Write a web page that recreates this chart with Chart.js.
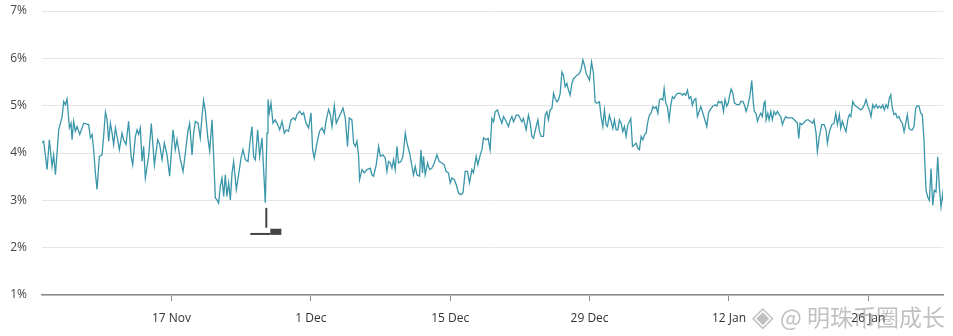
<!DOCTYPE html>
<html>
<head>
<meta charset="utf-8">
<script src="https://cdn.jsdelivr.net/npm/chart.js@4/dist/chart.umd.min.js"></script>
<style>
  html, body { margin: 0; padding: 0; background: #fff; }
  #wrap { position: relative; width: 953px; height: 336px; }
  #watermark {
    position: absolute; left: 752px; top: 294px;
    font-family: 'Noto Sans CJK SC', 'Noto Sans', sans-serif;
    font-size: 23px; color: rgba(140,140,140,0.55); white-space: nowrap;
    pointer-events: none;
  }
  #watermark .logo { font-size: 28px; margin-right: 6px; }
</style>
</head>
<body>
<div id="wrap">
  <canvas id="chart" width="953" height="336"></canvas>
  <div id="watermark"><span class="logo">◈</span>@ 明珠币圈成长</div>
</div>
<script>
// ── Data (day offset from 4 Nov, value in %) ─────────────────────────────────
const tickDays   = [13, 27, 41, 55, 69, 83];
const tickLabels = ['17 Nov', '1 Dec', '15 Dec', '29 Dec', '12 Jan', '26 Jan'];

const days = [
  0.0,0.17,0.51,0.74,1.01,1.17,1.35,1.68,2.02,2.18,2.35,2.52,2.75,2.92,3.02,3.18,3.35,3.52,3.79,4.19,
  4.69,4.86,5.03,5.19,5.36,5.53,5.76,6.03,6.19,6.37,6.54,6.70,6.87,7.04,7.20,7.37,7.60,7.77,8.04,8.20,
  8.44,8.70,8.95,9.11,9.38,9.55,9.71,9.88,10.05,10.21,10.38,10.71,10.98,11.29,11.62,11.82,12.06,12.29,12.56,12.82,
  13.16,13.39,13.56,13.90,14.17,14.40,14.63,14.83,15.07,15.23,15.40,15.67,15.90,16.07,16.23,16.41,16.64,16.84,17.08,17.24,
  17.41,17.58,17.74,17.91,18.08,18.25,18.41,18.58,18.75,18.92,19.09,19.25,19.52,19.75,19.99,20.19,20.42,20.69,20.92,21.09,
  21.25,21.43,21.66,21.86,22.10,22.26,22.43,22.60,22.70,22.83,23.00,23.20,23.43,23.67,23.87,24.11,24.34,24.54,24.77,25.01,
  25.27,25.44,25.61,25.87,26.12,26.28,26.52,26.78,27.02,27.18,27.35,27.62,27.88,28.12,28.35,28.55,28.79,28.96,29.13,29.36,
  29.56,29.79,30.03,30.23,30.46,30.69,30.86,31.13,31.30,31.47,31.64,31.80,31.90,32.14,32.37,32.64,32.97,33.14,33.30,33.57,
  33.81,33.98,34.25,34.48,34.65,34.81,34.98,35.15,35.31,35.48,35.65,35.81,36.05,36.26,36.49,36.66,36.92,37.16,37.32,37.49,
  37.66,37.92,38.06,38.22,38.32,38.49,38.73,38.93,39.17,39.40,39.67,39.90,40.17,40.40,40.60,40.83,41.00,41.17,41.41,41.61,
  41.84,42.08,42.28,42.51,42.74,42.94,43.18,43.34,43.61,43.78,44.02,44.19,44.35,44.58,44.81,45.01,45.19,45.36,45.52,45.75,
  45.95,46.19,46.36,46.63,46.86,47.03,47.20,47.36,47.63,47.86,48.03,48.20,48.36,48.63,48.86,49.04,49.21,49.37,49.64,49.81,
  49.97,50.14,50.37,50.54,50.71,50.87,51.04,51.22,51.38,51.55,51.72,51.88,52.05,52.22,52.38,52.55,52.72,52.88,53.05,53.22,
  53.39,53.72,53.96,54.13,54.33,54.49,54.66,54.83,54.99,55.20,55.39,55.56,55.73,55.99,56.16,56.33,56.49,56.66,56.79,56.99,
  57.17,57.34,57.50,57.67,57.84,58.00,58.17,58.34,58.50,58.67,58.84,59.00,59.14,59.31,59.48,59.68,59.85,60.01,60.18,60.35,
  60.51,60.68,60.85,61.01,61.18,61.36,61.52,61.69,61.86,62.02,62.19,62.36,62.49,62.66,62.82,62.99,63.16,63.32,63.49,63.66,
  63.82,63.99,64.16,64.33,64.50,64.67,64.83,65.00,65.17,65.33,65.50,65.67,65.83,66.00,66.18,66.34,66.54,66.78,66.94,67.11,
  67.38,67.61,67.78,67.94,68.11,68.28,68.45,68.61,68.78,68.94,69.05,69.22,69.39,69.55,69.79,70.05,70.19,70.39,70.55,70.72,
  70.89,71.12,71.29,71.45,71.55,71.72,71.86,72.03,72.20,72.36,72.53,72.63,72.73,72.90,73.03,73.20,73.36,73.53,73.70,73.86,
  74.03,74.20,74.37,74.54,74.71,74.87,75.04,75.37,75.71,75.87,76.01,76.14,76.31,76.48,76.65,76.82,76.98,77.15,77.42,77.55,
  77.75,77.88,78.08,78.32,78.55,78.75,78.89,79.09,79.33,79.56,79.73,79.89,80.09,80.23,80.39,80.56,80.76,80.93,81.09,81.24,
  81.44,81.60,81.77,82.00,82.24,82.44,82.60,82.77,82.94,83.10,83.27,83.44,83.60,83.78,83.94,84.11,84.28,84.45,84.61,84.78,
  84.95,85.11,85.25,85.41,85.58,85.75,85.91,86.09,86.26,86.42,86.59,86.76,86.92,87.09,87.26,87.42,87.59,87.76,87.92,88.09,
  88.26,88.42,88.59,88.69,88.80,88.96,89.13,89.30,89.47,89.63,89.80,89.97,90.13,90.30,90.47,90.53
];

const yields = [
  4.21,4.25,3.65,4.28,3.72,3.96,3.54,4.49,4.77,5.09,5.02,5.14,4.53,4.63,4.28,4.67,4.46,4.56,4.39,4.63,
  4.60,4.32,4.39,4.07,3.58,3.23,3.93,3.96,4.35,4.86,4.70,4.25,4.63,4.42,4.18,4.53,4.28,4.07,4.42,4.28,
  4.18,4.67,3.93,3.75,4.35,4.49,4.39,4.53,3.82,4.14,3.47,3.93,4.62,3.75,4.28,4.18,3.86,4.21,3.96,3.51,
  4.49,4.07,4.28,3.86,3.61,4.00,4.42,4.63,3.96,4.42,4.67,4.63,4.32,4.77,5.11,4.88,4.35,4.04,4.70,3.93,
  3.05,3.01,2.94,3.30,3.47,3.08,3.54,3.08,3.37,3.01,3.58,3.82,3.23,3.54,3.89,4.07,3.86,3.82,4.28,4.56,
  3.93,3.86,4.49,3.93,4.32,3.65,2.95,4.42,5.13,4.85,5.06,4.63,4.70,4.60,4.49,4.67,4.42,4.49,4.46,4.70,
  4.74,4.70,4.81,4.88,4.81,4.85,4.63,4.53,4.85,4.07,3.89,4.21,4.46,4.53,4.42,4.70,4.92,4.81,4.56,5.00,
  4.63,4.74,4.85,4.95,4.74,4.14,4.74,4.70,4.21,4.14,4.25,3.93,3.44,3.65,3.58,3.65,3.68,3.54,3.51,3.75,
  4.14,3.93,3.96,3.89,3.61,3.82,3.79,3.68,3.86,3.65,4.14,3.79,3.82,3.93,4.42,4.21,4.00,3.72,3.54,3.72,
  3.54,3.51,4.07,3.58,3.93,3.54,3.79,3.65,3.68,3.79,3.96,3.82,3.79,3.75,3.61,3.58,3.37,3.47,3.44,3.33,
  3.15,3.12,3.15,3.61,3.61,3.37,3.65,3.58,3.93,3.75,3.96,4.07,4.32,4.28,4.31,4.07,4.73,4.66,4.87,4.91,
  4.77,4.63,4.77,4.66,4.56,4.70,4.77,4.66,4.80,4.80,4.73,4.66,4.73,4.49,4.80,4.63,4.35,4.31,4.56,4.70,
  4.45,4.35,4.35,4.80,4.87,4.70,4.91,4.94,5.26,5.15,5.08,5.12,5.26,5.71,5.64,5.40,5.47,5.33,5.22,5.47,
  5.57,5.64,5.68,5.75,5.97,5.85,5.68,5.61,5.54,5.92,5.68,5.08,5.05,5.08,4.77,4.56,4.91,4.59,4.56,4.80,
  4.66,4.52,4.70,4.49,4.49,4.70,4.63,4.45,4.56,4.35,4.59,4.66,4.73,4.14,4.17,4.21,4.10,4.07,4.35,4.28,
  4.38,4.42,4.66,4.80,4.84,4.98,4.94,4.98,4.84,5.12,5.15,5.12,5.36,5.05,4.98,4.70,5.01,5.19,5.15,5.22,
  5.26,5.26,5.26,5.22,5.26,5.22,5.33,5.15,5.19,5.01,5.12,5.15,4.77,4.87,4.98,4.87,4.73,4.56,4.84,4.91,
  4.99,5.02,4.99,5.09,5.06,5.09,4.88,5.13,4.99,5.06,5.20,5.35,5.27,5.06,5.02,5.02,5.09,5.09,5.02,4.88,
  4.99,5.23,5.53,5.06,4.88,4.84,4.67,4.77,4.84,4.77,5.06,5.09,4.70,4.84,4.70,4.88,4.70,4.88,4.81,4.88,
  4.81,4.77,4.60,4.70,4.77,4.74,4.74,4.74,4.67,4.63,4.31,4.63,4.60,4.63,4.67,4.70,4.70,4.67,4.63,4.70,
  4.42,4.03,4.35,4.60,4.60,4.49,4.21,4.45,4.60,4.63,4.84,4.60,4.81,4.52,4.67,4.56,4.45,4.70,4.81,4.77,
  5.09,5.02,4.99,4.95,4.91,4.95,5.02,5.13,4.99,4.91,4.77,5.02,4.95,5.02,4.95,4.99,4.95,5.02,4.91,5.02,
  4.95,5.16,5.23,4.95,4.81,4.84,4.74,4.77,4.67,4.63,4.45,4.63,4.81,4.52,4.49,4.49,4.56,4.95,5.00,4.99,
  4.84,4.81,4.28,3.71,3.21,3.07,3.00,3.67,2.89,3.21,3.18,3.92,3.28,2.86,3.14,3.00
];

// stray marker left in the source image (data units)
const markerStem = { x: 22.53, y1: 2.84, y2: 2.42 };
const markerBase = { x1: 20.92, x2: 22.93, y: 2.29 };
const markerBox  = { x1: 22.93, x2: 24.04, y1: 2.40, y2: 2.27 };

const LINE_COLOR = '#3a96a9';

const markerPlugin = {
  id: 'marker',
  afterDatasetsDraw(chart) {
    const { ctx, scales: { x, y } } = chart;
    ctx.save();
    ctx.fillStyle = '#454545';
    ctx.fillRect(x.getPixelForValue(markerStem.x) - 1, y.getPixelForValue(markerStem.y1),
                 2, y.getPixelForValue(markerStem.y2) - y.getPixelForValue(markerStem.y1));
    ctx.fillRect(x.getPixelForValue(markerBase.x1), y.getPixelForValue(markerBase.y) - 1,
                 x.getPixelForValue(markerBase.x2) - x.getPixelForValue(markerBase.x1), 2);
    ctx.fillRect(x.getPixelForValue(markerBox.x1), y.getPixelForValue(markerBox.y1),
                 x.getPixelForValue(markerBox.x2) - x.getPixelForValue(markerBox.x1),
                 y.getPixelForValue(markerBox.y2) - y.getPixelForValue(markerBox.y1));
    ctx.restore();
  }
};

new Chart(document.getElementById('chart'), {
  type: 'line',
  data: {
    datasets: [{
      data: days.map((d, i) => ({ x: d, y: yields[i] })),
      borderColor: LINE_COLOR,
      borderWidth: 1.3,
      pointRadius: 0,
      tension: 0,
      fill: false
    }]
  },
  options: {
    responsive: false,
    animation: false,
    layout: { padding: { top: 11, right: 10, left: 0, bottom: 0 } },
    plugins: { legend: { display: false }, tooltip: { enabled: false } },
    scales: {
      x: {
        type: 'linear',
        min: 0,
        max: 90.5,
        afterBuildTicks: s => { s.ticks = tickDays.map(v => ({ value: v })); },
        afterFit: s => { s.height = 41; s.paddingLeft = 0; s.paddingRight = 0; },
        grid: { drawOnChartArea: false, drawTicks: true, tickLength: 6, color: '#8a8a8a', lineWidth: 1 },
        border: { display: true, color: '#8a8a8a', width: 1.5 },
        ticks: {
          padding: 10,
          maxRotation: 0,
          color: '#333',
          font: { family: "'Open Sans', sans-serif", size: 12 },
          callback: v => tickLabels[tickDays.indexOf(v)] ?? ''
        }
      },
      y: {
        min: 1,
        max: 7,
        afterFit: s => { s.width = 42; s.paddingTop = 0; s.paddingBottom = 0; },
        grid: { color: '#e6e6e6', drawTicks: false, lineWidth: 1 },
        border: { display: false },
        ticks: {
          stepSize: 1,
          padding: 15,
          color: '#444',
          font: { family: "'Open Sans', sans-serif", size: 12 },
          callback: v => v + '%'
        }
      }
    }
  },
  plugins: [markerPlugin]
});
</script>
</body>
</html>
